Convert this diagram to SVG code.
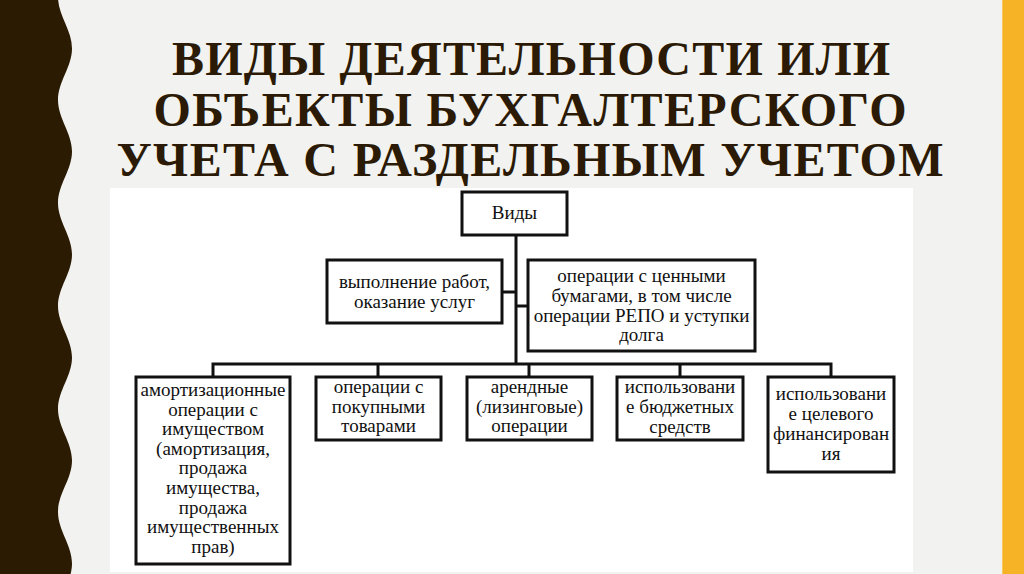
<svg xmlns="http://www.w3.org/2000/svg" width="1024" height="574" viewBox="0 0 1024 574">
<style>
.title{font-family:"Liberation Serif","Times New Roman",serif;font-weight:bold;font-size:48px;fill:#2b1a05;text-anchor:middle}
.box{fill:#ffffff;stroke:#111;stroke-width:3}
.t{font-family:"Liberation Serif","Times New Roman",serif;font-size:19px;fill:#111;text-anchor:middle}
.conn{stroke:#111;stroke-width:3;fill:none}
</style>
<rect x="0" y="0" width="1024" height="574" fill="#f2f2f0"/>
<path d="M0,-3 L58,-3 C58,15.76 72,29.74 72,48.5 S58,81.24 58,100 S72,132.74 72,151.5 S58,184.24 58,203 S72,235.74 72,254.5 S58,287.24 58,306 S72,338.74 72,357.5 S58,390.24 58,409 S72,441.74 72,460.5 S58,493.24 58,512 S72,544.74 72,563.5 S58,596.24 58,615 L0,615 Z" fill="#2b1b03"/>
<rect x="1002" y="0" width="22" height="574" fill="#f6b326"/>
<line x1="1002.5" y1="0" x2="1002.5" y2="574" stroke="#f9c75a" stroke-width="1"/>
<g id="title">
<text class="title" x="531" y="75" textLength="718" lengthAdjust="spacing">ВИДЫ ДЕЯТЕЛЬНОСТИ ИЛИ</text>
<text class="title" x="530" y="126" textLength="753" lengthAdjust="spacing">ОБЪЕКТЫ БУХГАЛТЕРСКОГО</text>
<text class="title" x="530" y="176" textLength="827" lengthAdjust="spacing">УЧЕТА С РАЗДЕЛЬНЫМ УЧЕТОМ</text>
</g>
<rect x="110" y="188" width="803" height="384" fill="#ffffff"/>
<g id="connectors">
<path class="conn" d="M516,235 V364"/>
<path class="conn" d="M502,292 H516"/>
<path class="conn" d="M516,306 H528"/>
<path class="conn" d="M213,377 V364 H831 V377"/>
<path class="conn" d="M378,364 V377"/>
<path class="conn" d="M529,364 V377"/>
<path class="conn" d="M680,364 V377"/>
</g>
<g id="n-vidy">
<rect class="box" x="462" y="192" width="105" height="43"/>
<text class="t" x="514.5" y="219">Виды</text>
</g>
<g id="n-rabot">
<rect class="box" x="327" y="260" width="175" height="63"/>
<text class="t" x="414.5" y="288">выполнение работ,</text>
<text class="t" x="414.5" y="308">оказание услуг</text>
</g>
<g id="n-bumagi">
<rect class="box" x="528" y="260" width="227" height="91"/>
<text class="t" x="641.5" y="282">операции с ценными</text>
<text class="t" x="641.5" y="302">бумагами, в том числе</text>
<text class="t" x="641.5" y="322">операции РЕПО и уступки</text>
<text class="t" x="641.5" y="341">долга</text>
</g>
<g id="n-amort">
<rect class="box" x="136" y="377" width="154" height="187"/>
<text class="t" x="213" y="396">амортизационные</text>
<text class="t" x="213" y="416">операции с</text>
<text class="t" x="213" y="435">имуществом</text>
<text class="t" x="213" y="455">(амортизация,</text>
<text class="t" x="213" y="474">продажа</text>
<text class="t" x="213" y="494">имущества,</text>
<text class="t" x="213" y="514">продажа</text>
<text class="t" x="213" y="533">имущественных</text>
<text class="t" x="213" y="553">прав)</text>
</g>
<g id="n-tovary">
<rect class="box" x="316" y="377" width="125" height="63"/>
<text class="t" x="378.5" y="393">операции с</text>
<text class="t" x="378.5" y="413">покупными</text>
<text class="t" x="378.5" y="432">товарами</text>
</g>
<g id="n-arenda">
<rect class="box" x="467" y="377" width="125" height="63"/>
<text class="t" x="529.5" y="393">арендные</text>
<text class="t" x="529.5" y="413">(лизинговые)</text>
<text class="t" x="529.5" y="432">операции</text>
</g>
<g id="n-budzhet">
<rect class="box" x="617" y="377" width="126" height="63"/>
<text class="t" x="680" y="393">использовани</text>
<text class="t" x="680" y="413">е бюджетных</text>
<text class="t" x="680" y="433">средств</text>
</g>
<g id="n-celevoe">
<rect class="box" x="768" y="377" width="126" height="95"/>
<text class="t" x="831" y="400">использовани</text>
<text class="t" x="831" y="420">е целевого</text>
<text class="t" x="831" y="440">финансирован</text>
<text class="t" x="831" y="460">ия</text>
</g>
</svg>
